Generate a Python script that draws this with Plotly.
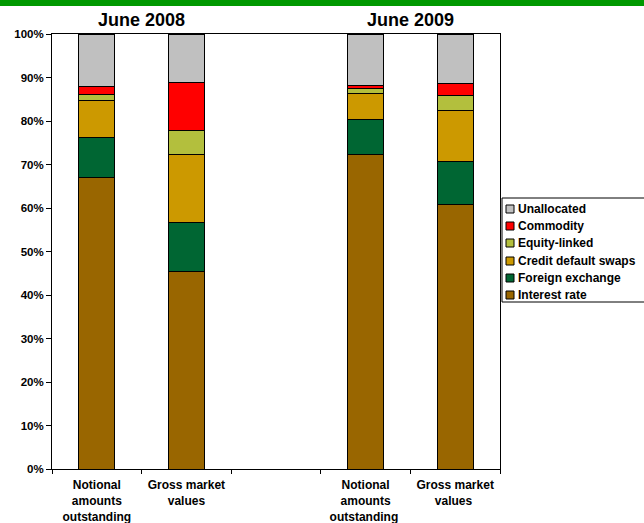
import plotly.graph_objects as go

# ---- data (percent shares) ----
categories = ["Notional<br>amounts<br>outstanding", "Gross market<br>values", " ",
              "Notional<br>amounts<br>outstanding ", "Gross market<br>values "]
series_names = ["Interest rate", "Foreign exchange", "Credit default swaps",
                "Equity-linked", "Commodity", "Unallocated"]
interest_rate = [67.0, 45.5, None, 72.3, 60.9]
foreign_exchange = [9.2, 11.1, None, 8.1, 9.7]
credit_default_swaps = [8.4, 15.6, None, 6.0, 11.8]
equity_linked = [1.5, 5.7, None, 1.1, 3.5]
commodity = [1.9, 10.9, None, 0.6, 2.7]
unallocated = [12.0, 11.2, None, 11.9, 11.4]
group_titles = ["June 2008", "June 2009"]
y_ticks = [0, 10, 20, 30, 40, 50, 60, 70, 80, 90, 100]
y_tick_labels = [f"{v}%" for v in y_ticks]

series_values = [interest_rate, foreign_exchange, credit_default_swaps,
                 equity_linked, commodity, unallocated]
colors = ["#996600", "#006633", "#CC9900", "#B3BF3D", "#FF0000", "#C0C0C0"]

W, H = 644, 523
L, R, T, B = 52, 144, 34, 54
PW, PH = W - L - R, H - T - B

def px_x(px):
    return (px - L) / PW

def px_y(py):
    return (H - B - py) / PH

fig = go.Figure()
for name, vals, col in zip(series_names, series_values, colors):
    fig.add_trace(go.Bar(
        x=categories, y=vals, name=name, width=0.4,
        marker=dict(color=col, line=dict(color="black", width=1)),
        showlegend=False,
    ))

font = "Liberation Sans, Arial, sans-serif"

fig.update_layout(
    width=W, height=H, barmode="stack",
    margin=dict(l=L, r=R, t=T, b=B, autoexpand=False),
    paper_bgcolor="white", plot_bgcolor="white",
    font=dict(family=font, color="black"),
    xaxis=dict(type="category", categoryorder="array", categoryarray=categories,
               tickson="boundaries", ticks="outside", ticklen=4, tickcolor="black",
               showline=True, linecolor="black", linewidth=1, mirror=True,
               showgrid=False, automargin=False, ticklabelstandoff=5,
               tickfont=dict(size=12, family=font, weight="bold"),
               range=[-0.5, 4.5]),
    yaxis=dict(range=[0, 100], tickvals=y_ticks, ticktext=y_tick_labels,
               ticks="outside", ticklen=5, tickcolor="black",
               showline=True, linecolor="black", linewidth=1, mirror=True,
               showgrid=False, zeroline=False, automargin=False,
               tickfont=dict(size=11.5, family=font, weight="bold")),
)

# top green banner
fig.add_shape(type="rect", xref="paper", yref="paper",
              x0=px_x(0), x1=px_x(W), y0=px_y(6), y1=px_y(0),
              fillcolor="#009900", line=dict(width=0), layer="above")

# group titles
for i, t in enumerate(group_titles):
    fig.add_annotation(x=0.5 + 3 * i, y=px_y(20), xref="x", yref="paper",
                       text=t, showarrow=False, yanchor="middle",
                       font=dict(size=18, family=font, weight="bold"))

# legend (top entry = last series)
fig.add_shape(type="rect", xref="paper", yref="paper",
              x0=px_x(502), x1=px_x(660), y0=px_y(302), y1=px_y(198),
              fillcolor="white", line=dict(color="black", width=1))
row_y = [209, 226, 243, 261, 278, 295]
for k, (name, col) in enumerate(zip(series_names[::-1], colors[::-1])):
    cy = row_y[k]
    fig.add_shape(type="rect", xref="paper", yref="paper",
                  x0=px_x(506), x1=px_x(514), y0=px_y(cy + 4), y1=px_y(cy - 4),
                  fillcolor=col, line=dict(color="black", width=1))
    fig.add_annotation(x=px_x(516), y=px_y(cy), xref="paper", yref="paper",
                       text=name, showarrow=False, xanchor="left", yanchor="middle",
                       font=dict(size=12, family=font, weight="bold"))

fig.write_html("out.html")
